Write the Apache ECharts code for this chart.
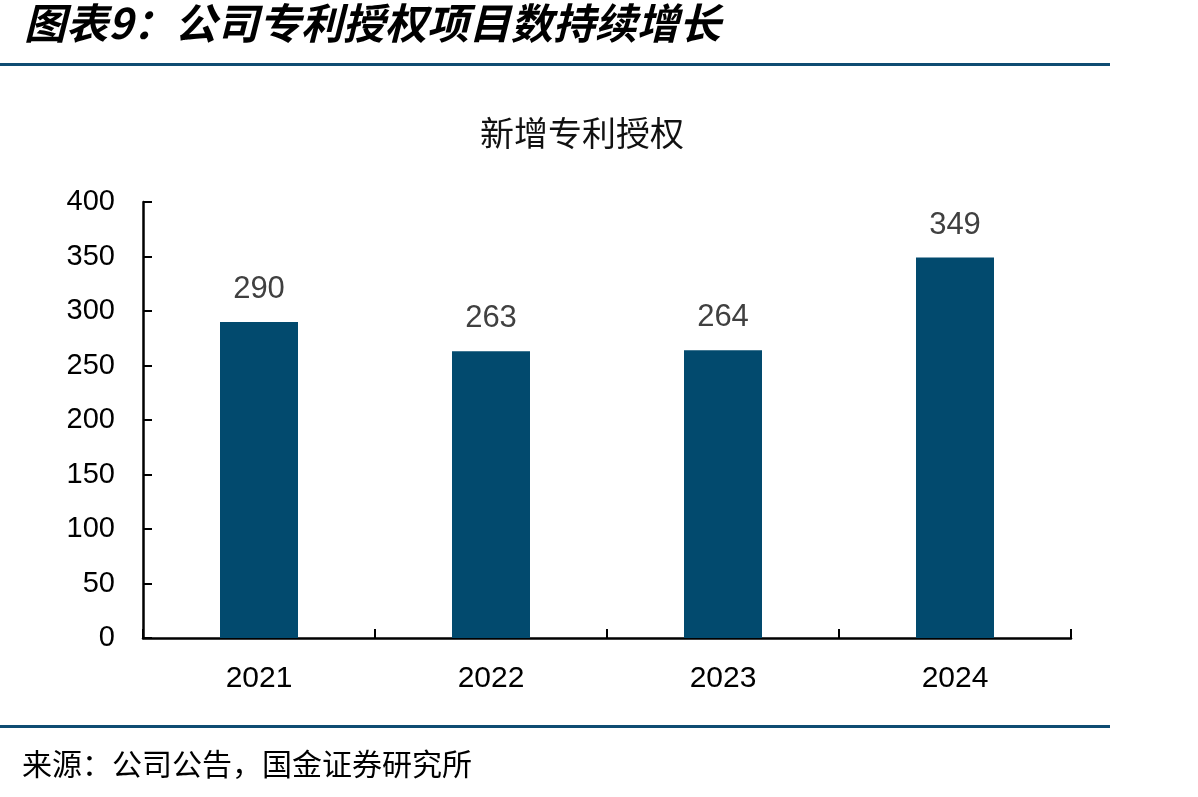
<!DOCTYPE html>
<html>
<head>
<meta charset="utf-8">
<script src="https://cdn.jsdelivr.net/npm/echarts@6/dist/echarts.min.js"></script>
<style>
html,body{margin:0;padding:0;background:#fff;}
#c{width:1198px;height:797px;}
</style>
</head>
<body>
<div id="c"></div>
<script>
var categories = ['2021', '2022', '2023', '2024'];
var patents = [290, 263, 264, 349];
var yTicks = [0, 50, 100, 150, 200, 250, 300, 350, 400];

var chart = echarts.init(document.getElementById('c'), null, {renderer: 'canvas'});
var option = {
  backgroundColor: '#ffffff',
  animation: false,
  title: {
    text: '新增专利授权',
    left: 577,
    top: 111,
    textAlign: 'center',
    textStyle: {fontFamily: 'Noto Sans CJK SC', fontSize: 34, fontWeight: 'normal', color: '#111'}
  },
  grid: {left: 143, right: 127, top: 202, bottom: 159, containLabel: false},
  xAxis: {
    type: 'category',
    data: categories,
    axisLine: {lineStyle: {color: '#000', width: 2.5}},
    axisTick: {show: true, inside: true, length: 9, alignWithLabel: false, lineStyle: {color: '#000', width: 2}},
    axisLabel: {fontFamily: 'Liberation Sans', fontSize: 30, color: '#000', margin: 26}
  },
  yAxis: {
    type: 'value',
    min: yTicks[0],
    max: yTicks[yTicks.length - 1],
    interval: yTicks[1] - yTicks[0],
    splitLine: {show: false},
    axisLine: {show: true, lineStyle: {color: '#000', width: 2.5}},
    axisTick: {show: true, inside: true, length: 9, lineStyle: {color: '#000', width: 2}},
    axisLabel: {fontFamily: 'Liberation Sans', fontSize: 29, color: '#000', margin: 28}
  },
  series: [{
    type: 'bar',
    data: patents,
    barWidth: 78,
    itemStyle: {color: '#024A6E'},
    label: {show: true, position: 'top', distance: 17, fontFamily: 'Liberation Sans', fontSize: 31, color: '#404040'}
  }],
  graphic: [
    {type: 'text', left: 24, top: 2, style: {text: '图表9：公司专利授权项目数持续增长', font: 'italic bold 42px "Noto Sans CJK SC"', fill: '#000'}},
    {type: 'rect', shape: {x: 0, y: 63, width: 1110, height: 3}, style: {fill: '#0E4C72'}},
    {type: 'rect', shape: {x: 0, y: 725, width: 1110, height: 3}, style: {fill: '#0E4C72'}},
    {type: 'text', left: 22, top: 749, style: {text: '来源：公司公告，国金证券研究所', font: '30px "Noto Sans CJK SC"', fill: '#000'}}
  ]
};
chart.setOption(option);
</script>
</body>
</html>
